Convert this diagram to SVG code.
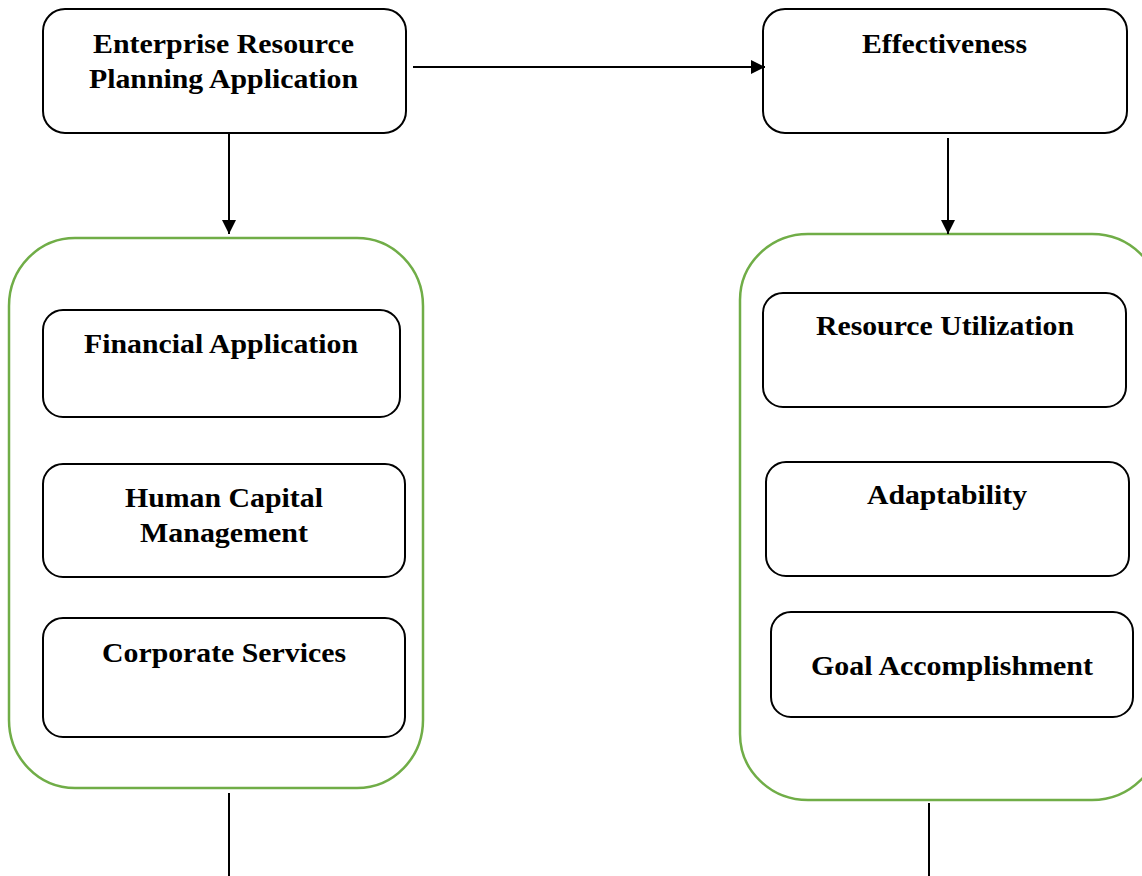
<svg xmlns="http://www.w3.org/2000/svg" width="1142" height="876" viewBox="0 0 1142 876">
  <style>
    .box { fill: #ffffff; stroke: #000000; stroke-width: 2; }
    .group { fill: none; stroke: #70ad47; stroke-width: 2.5; }
    .label { font-family: "Liberation Serif", "Times New Roman", serif; font-weight: bold; font-size: 27px; fill: #000000; text-anchor: middle; }
    .wire { stroke: #000000; stroke-width: 2; fill: none; }
  </style>
  <defs>
    <marker id="arrow" viewBox="0 0 14 14" refX="14" refY="7" markerWidth="14" markerHeight="14" markerUnits="userSpaceOnUse" orient="auto">
      <path d="M0,0 L14,7 L0,14 Z" fill="#000000"/>
    </marker>
  </defs>
  <rect width="1142" height="876" fill="#ffffff"/>

  <!-- container groups -->
  <g id="erp-modules">
    <rect class="group" x="9" y="238" width="414" height="550" rx="66" ry="68"/>
  </g>
  <g id="effectiveness-dimensions">
    <rect class="group" x="740" y="234" width="420" height="566" rx="68" ry="66"/>
  </g>

  <!-- top-level nodes -->
  <g id="erp">
    <rect class="box" x="43" y="9" width="363" height="124" rx="22"/>
    <text class="label" x="223.5" y="53" textLength="261" lengthAdjust="spacingAndGlyphs">Enterprise Resource</text>
    <text class="label" x="223.5" y="88" textLength="269" lengthAdjust="spacingAndGlyphs">Planning Application</text>
  </g>
  <g id="effectiveness">
    <rect class="box" x="763" y="9" width="364" height="124" rx="22"/>
    <text class="label" x="944.5" y="53" textLength="165" lengthAdjust="spacingAndGlyphs">Effectiveness</text>
  </g>

  <!-- ERP modules -->
  <g id="financial">
    <rect class="box" x="43" y="310" width="357" height="107" rx="20"/>
    <text class="label" x="221" y="353" textLength="274" lengthAdjust="spacingAndGlyphs">Financial Application</text>
  </g>
  <g id="human-capital">
    <rect class="box" x="43" y="464" width="362" height="113" rx="20"/>
    <text class="label" x="224" y="507" textLength="198" lengthAdjust="spacingAndGlyphs">Human Capital</text>
    <text class="label" x="224" y="542" textLength="168" lengthAdjust="spacingAndGlyphs">Management</text>
  </g>
  <g id="corporate">
    <rect class="box" x="43" y="618" width="362" height="119" rx="20"/>
    <text class="label" x="224" y="662" textLength="244" lengthAdjust="spacingAndGlyphs">Corporate Services</text>
  </g>

  <!-- effectiveness dimensions -->
  <g id="resource-utilization">
    <rect class="box" x="763" y="293" width="363" height="114" rx="20"/>
    <text class="label" x="945" y="335" textLength="258" lengthAdjust="spacingAndGlyphs">Resource Utilization</text>
  </g>
  <g id="adaptability">
    <rect class="box" x="766" y="462" width="363" height="114" rx="20"/>
    <text class="label" x="947" y="504" textLength="160" lengthAdjust="spacingAndGlyphs">Adaptability</text>
  </g>
  <g id="goal">
    <rect class="box" x="771" y="612" width="362" height="105" rx="20"/>
    <text class="label" x="952" y="675" textLength="282" lengthAdjust="spacingAndGlyphs">Goal Accomplishment</text>
  </g>

  <!-- connectors -->
  <g id="connectors">
    <line class="wire" x1="413" y1="67" x2="765" y2="67" marker-end="url(#arrow)"/>
    <line class="wire" x1="229" y1="133" x2="229" y2="234" marker-end="url(#arrow)"/>
    <line class="wire" x1="948" y1="138" x2="948" y2="234" marker-end="url(#arrow)"/>
    <line class="wire" x1="229" y1="793" x2="229" y2="876"/>
    <line class="wire" x1="929" y1="803" x2="929" y2="876"/>
  </g>
</svg>
